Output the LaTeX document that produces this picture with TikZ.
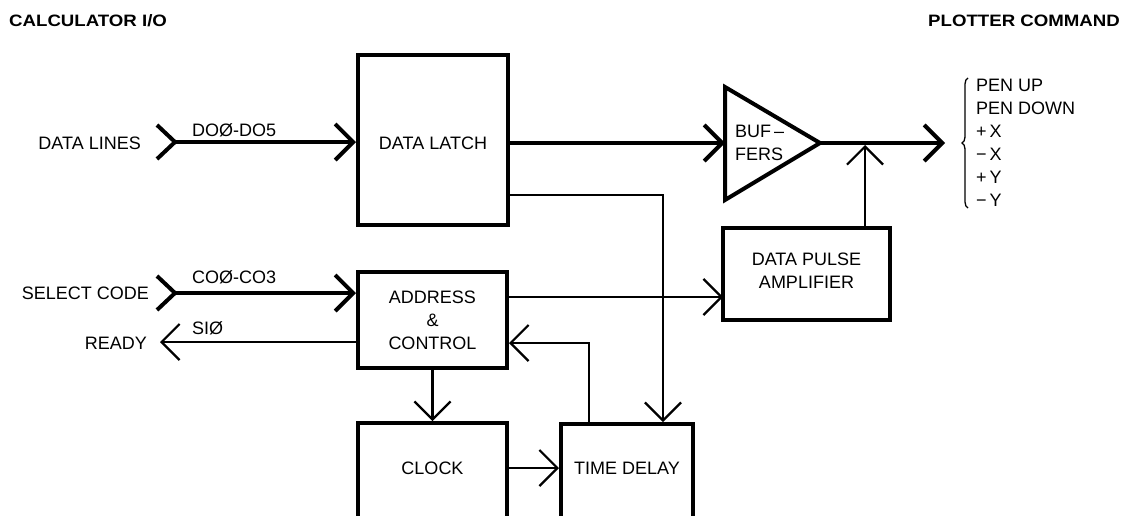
\documentclass[tikz,border=0pt]{standalone}
\usepackage{fontspec}
\setmainfont{Liberation Sans}
\usetikzlibrary{arrows.meta,decorations.pathreplacing}
\begin{document}
\begin{tikzpicture}[x=1pt,y=-1pt,
  >={Straight Barb[length=18pt,width=36pt]},
  txt/.style={font=\fontsize{18}{23}\selectfont, inner sep=0pt, align=center},
  captxt/.style={font=\fontsize{18}{23}\selectfont, inner sep=0pt, text height=12.9pt, text depth=0pt},
  ttl/.style={font=\fontsize{16.5}{20}\selectfont\bfseries, inner sep=0pt, text height=11.8pt, text depth=0pt},
  box/.style={draw, line width=4pt, rectangle, inner sep=0pt},
  bus/.style={line width=4pt},
  sig/.style={line width=2.2pt},
]
\useasboundingbox (0,0) rectangle (1125,515);
\clip (0,0) rectangle (1125,515);

% headings
\node[ttl, anchor=west] (hin) at (9,21) {\scalebox{1.13}[1]{CALCULATOR I/O}};
\node[ttl, anchor=east] (hout) at (1120,21) {\scalebox{1.13}[1]{PLOTTER COMMAND}};

% blocks
\node[box, minimum width=150pt, minimum height=170pt] (latch) at (433,140) {};
\node[captxt] (latchtxt) at (433,143) {DATA LATCH};

\node[box, minimum width=149pt, minimum height=96pt, txt] (addr) at (432.5,320) {ADDRESS\\\&\\CONTROL};

\node[box, minimum width=149pt, minimum height=117pt] (clock) at (432.5,481.5) {};
\node[captxt] (clocktxt) at (432.5,468) {CLOCK};

\node[box, minimum width=132pt, minimum height=116pt] (delay) at (627,482) {};
\node[captxt] (delaytxt) at (627,468) {TIME DELAY};

\node[box, minimum width=167pt, minimum height=92pt] (dpa) at (806.5,274) {};
\node[txt] (dpatxt) at (806.5,271) {DATA PULSE\\AMPLIFIER};

% buffer amplifier
\coordinate (bufA) at (725,87);
\coordinate (bufB) at (725,200);
\coordinate (bufC) at (820,143);
\draw[line width=4pt, line join=miter] (bufA) -- (bufC) -- (bufB) -- cycle;
\node[txt, align=left, anchor=west] (buftxt) at (735,143) {BUF\,–\\FERS};

% calculator side inputs and outputs
\node[captxt, anchor=east] (dl) at (141,143) {DATA LINES};
\node[captxt, anchor=east] (sc) at (149,293) {SELECT CODE};
\node[captxt, anchor=east] (rd) at (147,343) {READY};
\node[captxt, anchor=west] (dlbl) at (192,130) {DOØ-DO5};
\node[captxt, anchor=west] (clbl) at (192,277) {COØ-CO3};
\node[captxt, anchor=west] (slbl) at (192,328) {SIØ};

\coordinate (dlin) at (175,142);
\draw[bus] ([shift={(-18,-17)}]dlin) -- (dlin) -- ([shift={(-18,17)}]dlin);
\draw[bus,->] (dlin) -- (dlin -| latch.west);

\coordinate (scin) at (175,293);
\draw[bus] ([shift={(-18,-17)}]scin) -- (scin) -- ([shift={(-18,17)}]scin);
\draw[bus,->] (scin) -- (scin -| addr.west);

\coordinate (rdy) at (160,342);
\draw[sig,->] (rdy -| addr.west) -- (rdy);

% data path to the plotter
\coordinate (bufin) at (725,143);
\draw[bus,->] (latch.east |- bufin) -- (bufin);
\coordinate (out) at (945,143);
\draw[bus,->] (bufC) -- (out);
\coordinate (join) at (865,145);
\draw[sig,->] (dpa.north -| join) -- (join);

% control paths
\coordinate (a2d) at (723,297);
\draw[sig,->] (addr.east |- a2d) -- (a2d);
\draw[sig,->] (addr.south) -- (addr.south |- clock.north);
\draw[sig,->] (clock.east |- clocktxt) -- (delay.west |- clocktxt);
\coordinate (fb) at (589,343);
\draw[sig,->] (fb |- delay.north) -- (fb) -- (fb -| addr.east);
\coordinate (ld) at (663,195);
\draw[sig,->] (ld -| latch.east) -- (ld) -- (ld |- delay.north);

% plotter command list
\draw[line width=1.3pt, decorate, decoration={brace, amplitude=6pt}] (968,208) -- (968,78);
\node[captxt, anchor=west] (c1) at (976,85) {PEN UP};
\node[captxt, anchor=west] (c2) at (976,108) {PEN DOWN};
\node[captxt, anchor=west] (c3) at (976,131) {+\,X};
\node[captxt, anchor=west] (c4) at (976,154) {−\,X};
\node[captxt, anchor=west] (c5) at (976,177) {+\,Y};
\node[captxt, anchor=west] (c6) at (976,200) {−\,Y};
\end{tikzpicture}
\end{document}
